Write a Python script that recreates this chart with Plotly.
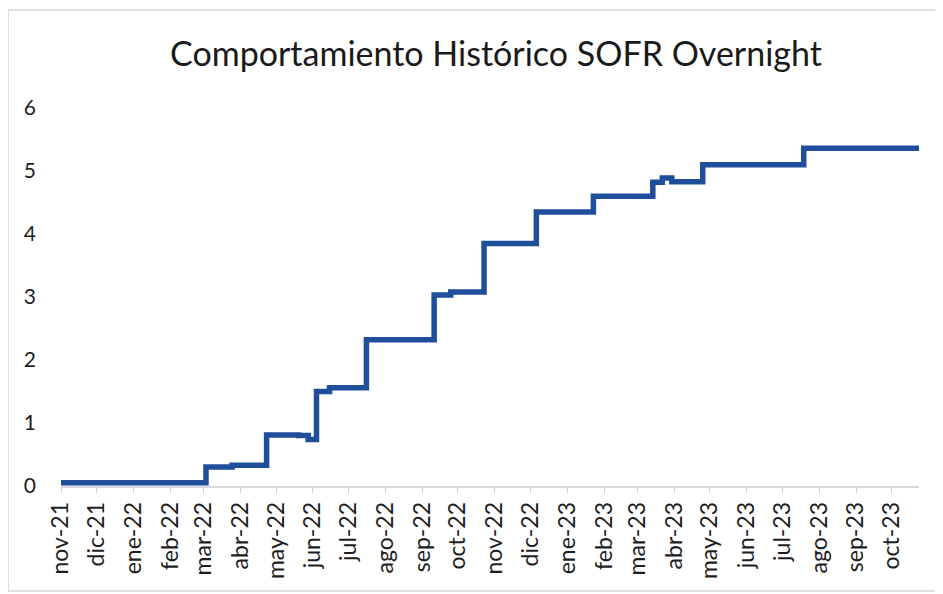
import plotly.graph_objects as go

# Step series (date of each level change, level in %)
change_dates = [
    "2021-11-01", "2022-03-03", "2022-03-25", "2022-04-23", "2022-05-20",
    "2022-05-28", "2022-06-04", "2022-06-15", "2022-07-16", "2022-09-11",
    "2022-09-25", "2022-10-23", "2022-12-06", "2023-01-23", "2023-03-14",
    "2023-03-22", "2023-03-30", "2023-04-25", "2023-07-19", "2023-10-24",
]
sofr_levels = [
    0.05, 0.30, 0.33, 0.81, 0.80,
    0.74, 1.50, 1.56, 2.32, 3.03,
    3.08, 3.85, 4.35, 4.60, 4.82,
    4.89, 4.83, 5.10, 5.36, 5.37,
]

tick_dates = [
    "2021-11-01", "2021-12-01", "2022-01-01", "2022-02-01", "2022-03-01", "2022-04-01",
    "2022-05-01", "2022-06-01", "2022-07-01", "2022-08-01", "2022-09-01", "2022-10-01",
    "2022-11-01", "2022-12-01", "2023-01-01", "2023-02-01", "2023-03-01", "2023-04-01",
    "2023-05-01", "2023-06-01", "2023-07-01", "2023-08-01", "2023-09-01", "2023-10-01",
]
tick_labels = [
    "nov-21", "dic-21", "ene-22", "feb-22", "mar-22", "abr-22",
    "may-22", "jun-22", "jul-22", "ago-22", "sep-22", "oct-22",
    "nov-22", "dic-22", "ene-23", "feb-23", "mar-23", "abr-23",
    "may-23", "jun-23", "jul-23", "ago-23", "sep-23", "oct-23",
]
y_ticks = [0, 1, 2, 3, 4, 5, 6]

# page is 943x594; the browser's default body margin puts the figure at (8, 8)
OFF = 8
W, H = 943 - OFF, 594 - OFF
ML, MR, MT, MB = 61 - OFF, 24, 108 - OFF, 108
pw = W - ML - MR
ph = H - MT - MB

fig = go.Figure()
fig.add_trace(go.Scatter(
    x=change_dates, y=sofr_levels, mode="lines",
    line=dict(color="#1F4E9A", width=5.5, shape="hv"),
    showlegend=False, hoverinfo="x+y",
))

txt = "#1e1e1e"
fam = "Lato, 'Open Sans', sans-serif"
fig.update_layout(
    width=W, height=H,
    margin=dict(l=ML, r=MR, t=MT, b=MB, autoexpand=False),
    paper_bgcolor="white", plot_bgcolor="white",
    font=dict(family=fam, color=txt),
    title=dict(
        text="Comportamiento Histórico SOFR Overnight",
        x=(496 - OFF) / W, xanchor="center", xref="container",
        y=1 - (54 - OFF) / H, yanchor="middle", yref="container",
        font=dict(size=34, color="#1a1a1a", family=fam),
    ),
    xaxis=dict(
        type="date", range=["2021-11-01", "2023-10-24"],
        tickmode="array", tickvals=tick_dates, ticktext=tick_labels,
        tickangle=-90, tickfont=dict(size=23, color=txt),
        showgrid=False, zeroline=False, automargin=False,
        showline=True, linecolor="#d9d9d9", linewidth=1.5,
        ticks="outside", ticklen=5, tickcolor="#cfcfcf", tickwidth=1,
    ),
    yaxis=dict(
        range=[0, 6], tickmode="array", tickvals=y_ticks,
        tickfont=dict(size=21, color=txt), automargin=False,
        showgrid=False, zeroline=False, showline=False,
        ticks="", ticklabelstandoff=24,
    ),
    shapes=[dict(
        type="rect", xref="paper", yref="paper",
        x0=(8 - OFF - ML) / pw, x1=(938 - OFF - ML) / pw,
        y0=(H - MB - (591 - OFF)) / ph, y1=(H - MB - (10 - OFF)) / ph,
        line=dict(color="#d6d6d6", width=1.5), fillcolor="rgba(0,0,0,0)",
        layer="below",
    )],
)

fig.write_html("out.html")
